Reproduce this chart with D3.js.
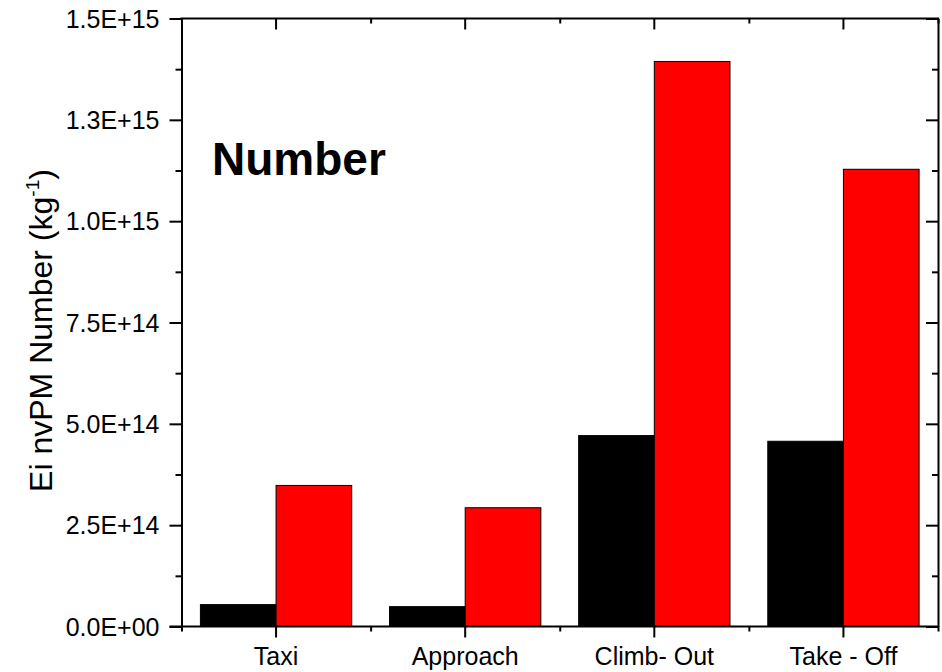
<!DOCTYPE html>
<html>
<head>
<meta charset="utf-8">
<script src="https://cdn.jsdelivr.net/npm/d3@7"></script>
<style>
  html, body { margin: 0; padding: 0; background: #fff; }
  svg { display: block; font-family: "Liberation Sans", Arial, sans-serif; }
</style>
</head>
<body>
<svg id="chart" width="942" height="672"></svg>
<script>
// Flight phases and emission index values (particles per kg fuel)
const categories = ["Taxi", "Approach", "Climb- Out", "Take - Off"];
const seriesNames = ["black", "red"];
const seriesBlack = [5.4e13, 4.9e13, 4.71e14, 4.57e14];
const seriesRed = [3.48e14, 2.93e14, 1.394e15, 1.128e15];
const seriesColors = ["#000000", "#ff0000"];
const yTickValues = [0, 2.5e14, 5.0e14, 7.5e14, 1.0e15, 1.25e15, 1.5e15];
const yTickLabels = ["0.0E+00", "2.5E+14", "5.0E+14", "7.5E+14", "1.0E+15", "1.3E+15", "1.5E+15"];
const yMinorValues = [1.25e14, 3.75e14, 6.25e14, 8.75e14, 1.125e15, 1.375e15];

(function () {
const svg = d3.select("#chart");
const plotL = 181.5, plotR = 938, plotT = 18.5, plotB = 626.5;

const x = d3.scaleBand().domain(categories).range([plotL, plotR]).paddingInner(0).paddingOuter(0);
const xs = d3.scaleBand().domain(seriesNames)
  .range([x.bandwidth() * 0.1, x.bandwidth() * 0.9]).padding(0);
const y = d3.scaleLinear().domain([0, 1.5e15]).range([plotB, plotT]);

const rows = categories.map((c, i) => ({ cat: c, values: [seriesBlack[i], seriesRed[i]] }));

// bars
const groups = svg.append("g").selectAll("g").data(rows).join("g")
  .attr("transform", d => `translate(${x(d.cat)},0)`);
groups.selectAll("rect")
  .data(d => d.values.map((v, j) => ({ key: seriesNames[j], v, j })))
  .join("rect")
  .attr("x", d => xs(d.key))
  .attr("width", xs.bandwidth())
  .attr("y", d => y(d.v))
  .attr("height", d => y(0) - y(d.v))
  .attr("fill", d => seriesColors[d.j])
  .attr("stroke", "#000")
  .attr("stroke-width", 1);

// category boundaries for minor ticks on x axes
const xMinor = categories.map(c => x(c)).concat([plotR]);
const xMinorScale = d3.scaleLinear().domain([plotL, plotR]).range([plotL, plotR]);

function styleAxis(g) {
  g.attr("font-size", null).attr("font-family", null);
  g.selectAll("path.domain").attr("stroke", "#000").attr("stroke-width", 2);
  g.selectAll(".tick line").attr("stroke", "#000").attr("stroke-width", 2);
  g.selectAll("text").attr("fill", "#000")
    .style("font-size", "25px")
    .style("font-family", "'Liberation Sans', Arial, sans-serif");
}

// left axis (outward ticks)
const gL = svg.append("g").attr("transform", `translate(${plotL},0)`)
  .call(d3.axisLeft(y).tickValues(yTickValues)
    .tickFormat((d, i) => yTickLabels[i]).tickSizeInner(12).tickSizeOuter(0).tickPadding(10));
styleAxis(gL);
gL.selectAll("text").attr("dy", "0.35em");
svg.append("g").attr("transform", `translate(${plotL},0)`)
  .call(d3.axisLeft(y).tickValues(yMinorValues).tickFormat("").tickSizeInner(6).tickSizeOuter(0))
  .call(g => { g.select("path.domain").remove(); styleAxis(g); });

// right axis (inward ticks)
const gR = svg.append("g").attr("transform", `translate(${plotR},0)`)
  .call(d3.axisRight(y).tickValues(yTickValues).tickFormat("").tickSizeInner(-12).tickSizeOuter(0));
styleAxis(gR);
svg.append("g").attr("transform", `translate(${plotR},0)`)
  .call(d3.axisRight(y).tickValues(yMinorValues).tickFormat("").tickSizeInner(-6).tickSizeOuter(0))
  .call(g => { g.select("path.domain").remove(); styleAxis(g); });

// bottom axis (outward ticks at category centres)
const gB = svg.append("g").attr("transform", `translate(0,${plotB})`)
  .call(d3.axisBottom(x).tickSizeInner(11).tickSizeOuter(0).tickPadding(10));
styleAxis(gB);
gB.select("path.domain").attr("d", `M${plotL - 12},0H${plotR + 1}`);
gB.selectAll("text").attr("dy", "0.71em");
svg.append("g").attr("transform", `translate(0,${plotB})`)
  .call(d3.axisBottom(xMinorScale).tickValues(xMinor).tickFormat("").tickSizeInner(5).tickSizeOuter(0))
  .call(g => { g.select("path.domain").remove(); styleAxis(g); });

// top axis (inward ticks)
const gT = svg.append("g").attr("transform", `translate(0,${plotT})`)
  .call(d3.axisTop(x).tickFormat("").tickSizeInner(-11).tickSizeOuter(0));
styleAxis(gT);
gT.select("path.domain").attr("d", `M${plotL - 1},0H${plotR + 1}`);
svg.append("g").attr("transform", `translate(0,${plotT})`)
  .call(d3.axisTop(xMinorScale).tickValues(xMinor).tickFormat("").tickSizeInner(-5).tickSizeOuter(0))
  .call(g => { g.select("path.domain").remove(); styleAxis(g); });

// y axis title
const yTitle = svg.append("text")
  .attr("transform", `translate(52,${(plotT + plotB) / 2 + 8}) rotate(-90)`)
  .attr("text-anchor", "middle")
  .attr("font-size", 32)
  .attr("fill", "#000");
yTitle.append("tspan").text("Ei nvPM Number (kg");
yTitle.append("tspan").attr("font-size", 19).attr("dy", -13).text("-1");
yTitle.append("tspan").attr("dy", 13).text(")");

// panel label
svg.append("text")
  .attr("x", 212).attr("y", 175)
  .attr("font-size", 46).attr("font-weight", "bold")
  .attr("fill", "#000")
  .text("Number");
})();
</script>
</body>
</html>
